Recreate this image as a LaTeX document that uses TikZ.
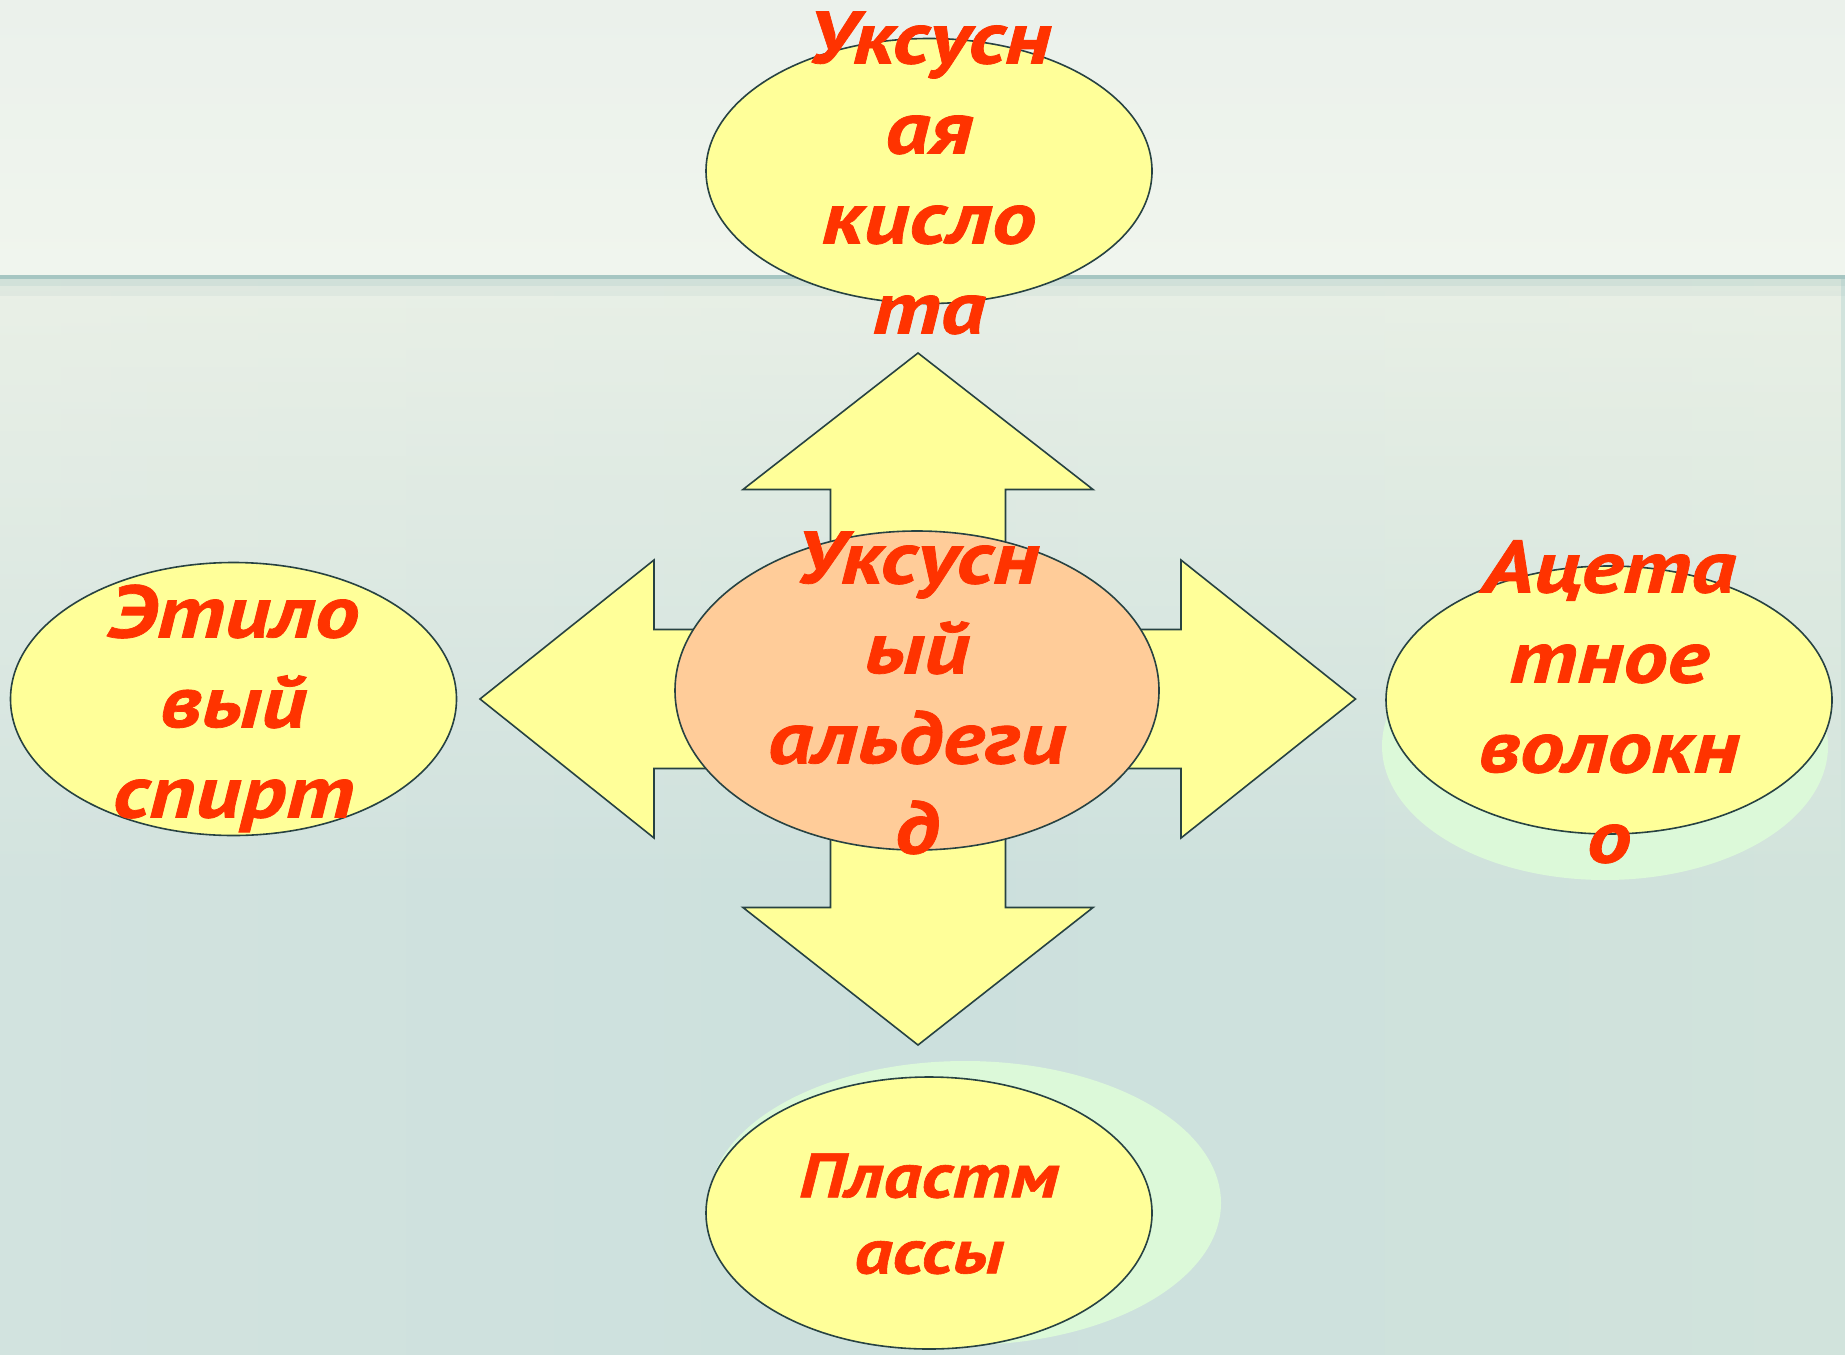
\documentclass[tikz,border=0pt]{standalone}
\usepackage{fontspec}
\setmainfont{Liberation Sans}
\newfontfamily\lblfont{PT Sans}[FakeStretch=1.2, FakeBold=1]
\usetikzlibrary{shapes.geometric,fadings}
\definecolor{txtred}{HTML}{FF3300}
\definecolor{shapeyel}{HTML}{FFFF99}
\definecolor{peach}{HTML}{FFCC99}
\definecolor{outl}{HTML}{274242}
\definecolor{shadowgr}{HTML}{DCF9D9}
\definecolor{bgA}{HTML}{DDE7DD}
\definecolor{bgB}{HTML}{D3E3DF}
\definecolor{bgC}{HTML}{CCE0DD}
\definecolor{bgD}{HTML}{D1E3DC}
\definecolor{bgE}{HTML}{DBE8E1}
\definecolor{tbA}{HTML}{E8EFEA}
\definecolor{tbB}{HTML}{F3F7EF}
\definecolor{bandline}{HTML}{A6C6C2}
\definecolor{glow}{HTML}{F4F6EA}
\pgfdeclarehorizontalshading{lowerbg}{100bp}{color(0bp)=(bgA); color(22bp)=(bgB); color(50bp)=(bgC); color(75bp)=(bgD); color(100bp)=(bgE)}
\pgfdeclareverticalshading{topbg}{100bp}{color(0bp)=(tbB); color(100bp)=(tbA)}
\tikzset{
  ell/.style={ellipse, draw=outl, line width=0.8pt, inner sep=0pt, fill=shapeyel},
  shadowell/.style={ellipse, inner sep=0pt, fill=shadowgr, draw=none},
  arrowshape/.style={draw=outl, line width=0.8pt, fill=shapeyel, line join=miter},
  lbl/.style={anchor=north, align=center, inner sep=0pt, text=txtred, font=\lblfont\fontsize{37}{45}\selectfont\bfseries\itshape},
  lblsmall/.style={lbl, font=\lblfont\fontsize{31.5}{38}\selectfont\bfseries\itshape}
}
\begin{document}
\begin{tikzpicture}[x=0.5pt, y=-0.5pt]
\useasboundingbox (0,0) rectangle (1845,1354);
% background
\shade[shading=lowerbg] (0,276) rectangle (1845,1354);
\fill[glow, path fading=south, fill opacity=0.7] (0,276) rectangle (1845,900);
\shade[shading=topbg] (0,0) rectangle (1845,276);
\fill[bandline] (0,275) rectangle (1845,279);
\fill[bandline, opacity=0.35] (0,279) rectangle (1845,286);
\fill[bandline, opacity=0.15] (0,286) rectangle (1845,296);
% quad arrow
\draw[arrowshape] (918,353) -- (1093,489.5) -- (1005.5,489.5) -- (1005.5,629.5)
  -- (1181,629.5) -- (1181,560) -- (1355.5,699) -- (1181,838) -- (1181,768.5)
  -- (1005.5,768.5) -- (1005.5,907.5) -- (1093,907.5) -- (918,1045) -- (743,907.5)
  -- (830.5,907.5) -- (830.5,768.5) -- (654,768.5) -- (654,838) -- (480,699)
  -- (654,560) -- (654,629.5) -- (830.5,629.5) -- (830.5,489.5) -- (743,489.5) -- cycle;
% shadows
\node[shadowell, minimum width=223pt, minimum height=134pt] (rightsh) at (1605,746) {};
\node[shadowell, minimum width=256pt, minimum height=142pt] (bottomsh) at (965,1203) {};
% ellipses
\node[ell, minimum width=223pt, minimum height=132.5pt] (top) at (929,171) {};
\node[ell, minimum width=223pt, minimum height=136.5pt] (left) at (233.5,699) {};
\node[ell, minimum width=223pt, minimum height=134pt] (right) at (1609,700) {};
\node[ell, minimum width=223pt, minimum height=136pt] (bottom) at (929,1213) {};
\node[ell, fill=peach, minimum width=242pt, minimum height=159.5pt] (center) at (917,690.5) {};
% labels
\node[lbl] (toplbl) at (929,3) {\rule{0pt}{30pt}Уксусн\\ая\\кисло\\та};
\node[lbl] (centerlbl) at (917,523) {\rule{0pt}{30pt}Уксусн\\ый\\альдеги\\д};
\node[lbl] (leftlbl) at (233.5,577) {\rule{0pt}{30pt}Этило\\вый\\спирт};
\node[lbl] (rightlbl) at (1609,532) {\rule{0pt}{30pt}Ацета\\тное\\волокн\\о};
\node[lblsmall] (bottomlbl) at (929,1149) {\rule{0pt}{24pt}Пластм\\ассы};
\end{tikzpicture}
\end{document}
